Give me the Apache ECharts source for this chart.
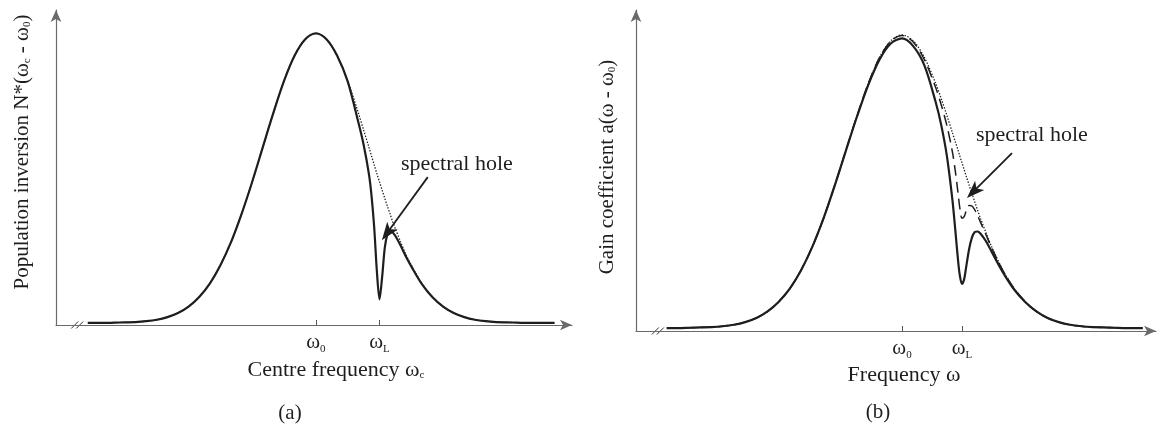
<!DOCTYPE html>
<html>
<head>
<meta charset="utf-8">
<script src="https://cdn.jsdelivr.net/npm/echarts@6/dist/echarts.min.js"></script>
<style>
  html, body { margin: 0; padding: 0; background: #fff; }
  #chart { width: 1164px; height: 430px; }
</style>
</head>
<body>
<div id="chart"></div>
<script>
// Frequencies are in units of the inhomogeneous width, with ω0 at 0.

// (a) population inversion versus centre frequency
const freqA = [-4.3, -4.0, -3.8, -3.6, -3.4, -3.2, -3.0, -2.8, -2.6, -2.4,
  -2.2, -2.0, -1.8, -1.6, -1.4, -1.2, -1.0, -0.8, -0.6, -0.4,
  -0.2, 0, 0.2, 0.4, 0.6, 0.8, 0.9, 1.0, 1.05, 1.1,
  1.15, 1.2, 1.25, 1.3, 1.35, 1.4, 1.45, 1.5, 1.6, 1.7,
  1.8, 2.0, 2.2, 2.4, 2.6, 2.8, 3.0, 3.2, 3.4, 3.6,
  3.8, 4.0, 4.2, 4.5];
// unsaturated inversion (dotted)
const inversionUnsat = [0.007, 0.007, 0.008, 0.009, 0.010, 0.013, 0.018, 0.027, 0.041, 0.063,
  0.096, 0.142, 0.205, 0.284, 0.381, 0.491, 0.610, 0.728, 0.837, 0.924,
  0.980, 1.000, 0.980, 0.924, 0.837, 0.728, 0.669, 0.610, 0.579, 0.549,
  0.519, 0.491, 0.462, 0.434, 0.406, 0.381, 0.353, 0.330, 0.284, 0.241,
  0.205, 0.142, 0.096, 0.063, 0.041, 0.027, 0.018, 0.013, 0.010, 0.009,
  0.008, 0.007, 0.007, 0.007];
// inversion with the hole burnt at ωL (solid)
const inversionHole = [0.007, 0.007, 0.008, 0.009, 0.010, 0.013, 0.018, 0.027, 0.041, 0.063,
  0.096, 0.142, 0.205, 0.284, 0.381, 0.491, 0.610, 0.728, 0.837, 0.924,
  0.980, 1.000, 0.980, 0.924, 0.835, 0.696, 0.619, 0.518, 0.443, 0.335,
  0.186, 0.088, 0.165, 0.265, 0.311, 0.323, 0.317, 0.305, 0.272, 0.234,
  0.201, 0.140, 0.095, 0.063, 0.041, 0.027, 0.018, 0.013, 0.010, 0.009,
  0.008, 0.007, 0.007, 0.007];
const ticksA = [0, 1.2];                       // ω0, ωL
const tickLabelsA = ['ω{s|0}', 'ω{s|L}'];

// (b) gain coefficient versus frequency
const freqB = [-4.2, -4.0, -3.8, -3.6, -3.4, -3.2, -3.0, -2.8, -2.6, -2.4,
  -2.2, -2.0, -1.8, -1.6, -1.4, -1.2, -1.0, -0.8, -0.6, -0.4,
  -0.2, 0, 0.2, 0.4, 0.6, 0.7, 0.8, 0.9, 0.95, 1.0,
  1.03, 1.07, 1.11, 1.15, 1.2, 1.25, 1.3, 1.35, 1.4, 1.5,
  1.6, 1.8, 2.0, 2.2, 2.4, 2.6, 2.8, 3.0, 3.2, 3.4,
  3.6, 3.8, 4.0, 4.3];
// small-signal gain (dotted)
const gainUnsat = [0.010, 0.010, 0.011, 0.012, 0.013, 0.016, 0.021, 0.030, 0.044, 0.066,
  0.099, 0.144, 0.206, 0.285, 0.381, 0.492, 0.611, 0.729, 0.837, 0.924,
  0.980, 1.000, 0.980, 0.924, 0.837, 0.785, 0.729, 0.670, 0.640, 0.611,
  0.592, 0.569, 0.545, 0.521, 0.492, 0.464, 0.436, 0.408, 0.381, 0.332,
  0.285, 0.206, 0.144, 0.099, 0.066, 0.044, 0.030, 0.021, 0.016, 0.013,
  0.012, 0.011, 0.010, 0.010];
// gain under a weak field at ωL (dashed)
const gainWeak = [0.010, 0.010, 0.011, 0.012, 0.013, 0.016, 0.021, 0.030, 0.044, 0.066,
  0.099, 0.144, 0.206, 0.285, 0.381, 0.492, 0.611, 0.729, 0.837, 0.924,
  0.979, 0.998, 0.976, 0.916, 0.823, 0.764, 0.695, 0.605, 0.543, 0.467,
  0.419, 0.381, 0.386, 0.408, 0.424, 0.422, 0.409, 0.390, 0.368, 0.325,
  0.281, 0.205, 0.144, 0.099, 0.066, 0.044, 0.030, 0.021, 0.016, 0.013,
  0.012, 0.011, 0.010, 0.010];
// gain under a strong field at ωL (solid)
const gainStrong = [0.010, 0.010, 0.011, 0.012, 0.013, 0.016, 0.021, 0.030, 0.044, 0.066,
  0.099, 0.144, 0.206, 0.285, 0.381, 0.492, 0.610, 0.726, 0.832, 0.917,
  0.971, 0.988, 0.962, 0.897, 0.774, 0.696, 0.593, 0.444, 0.345, 0.241,
  0.191, 0.159, 0.175, 0.221, 0.278, 0.316, 0.334, 0.336, 0.329, 0.303,
  0.268, 0.199, 0.141, 0.098, 0.066, 0.044, 0.030, 0.021, 0.016, 0.013,
  0.012, 0.011, 0.010, 0.010];
const ticksB = [0, 1.07];                      // ω0, ωL
const tickLabelsB = ['ω{s|0}', 'ω{s|L}'];

// annotation anchors (data coordinates): label arrow start -> tip
const holeArrowA = [[2.11, 0.507], [1.245, 0.291]];
const holeArrowB = [[1.964, 0.601], [1.16, 0.449]];

const SERIF = '"Liberation Serif", "DejaVu Serif", serif';
const INK = '#1e1e1e';
const AXIS = '#6a6a6a';

const zip = (xs, ys) => xs.map((x, i) => [x, ys[i]]);

const subRich = {
  s: { fontFamily: SERIF, fontSize: 11, lineHeight: 11, verticalAlign: 'bottom', color: INK }
};

function makeXAxis(gridIndex, min, max, ticks, labels) {
  return {
    type: 'value', gridIndex, min, max,
    splitLine: { show: false },
    axisLine: {
      onZero: false,
      symbol: ['none', 'arrow'], symbolSize: [8, 12],
      lineStyle: { color: AXIS, width: 1.2 }
    },
    axisTick: {
      customValues: ticks, inside: true, length: 5,
      lineStyle: { color: '#555', width: 1 }
    },
    axisLabel: {
      customValues: ticks, margin: 5,
      fontFamily: SERIF, fontSize: 21, lineHeight: 25, color: INK,
      formatter: v => labels[ticks.indexOf(v)] ?? '',
      rich: subRich
    }
  };
}
function makeYAxis(gridIndex, max) {
  return {
    type: 'value', gridIndex, min: 0, max,
    splitLine: { show: false },
    axisTick: { show: false },
    axisLabel: { show: false },
    axisLine: {
      onZero: false,
      symbol: ['none', 'arrow'], symbolSize: [8, 12],
      lineStyle: { color: AXIS, width: 1.2 }
    }
  };
}
function curve(name, xi, xs, ys, style, z) {
  return {
    name, type: 'line', xAxisIndex: xi, yAxisIndex: xi,
    data: zip(xs, ys), showSymbol: false, smooth: 0.3, z,
    lineStyle: Object.assign({ color: INK }, style),
    silent: true, animation: false
  };
}

const chart = echarts.init(document.getElementById('chart'), null, { renderer: 'canvas' });

chart.setOption({
  backgroundColor: '#fff',
  animation: false,
  grid: [
    { left: 56, top: 10, width: 516, height: 315 },
    { left: 636, top: 10, width: 520, height: 321 }
  ],
  xAxis: [
    makeXAxis(0, -4.9, 4.83, ticksA, tickLabelsA),
    makeXAxis(1, -4.75, 4.536, ticksB, tickLabelsB)
  ],
  yAxis: [makeYAxis(0, 1.08), makeYAxis(1, 1.084)],
  series: [
    curve('unsaturated inversion', 0, freqA, inversionUnsat, { width: 1.3, type: [1.4, 1.6] }, 2),
    curve('burnt inversion', 0, freqA, inversionHole, { width: 2.2 }, 3),
    curve('small-signal gain', 1, freqB, gainUnsat, { width: 1.3, type: [1.4, 1.6] }, 2),
    curve('weak-field gain', 1, freqB, gainWeak, { width: 1.5, type: [11, 6] }, 3),
    curve('strong-field gain', 1, freqB, gainStrong, { width: 2.2 }, 4)
  ]
});

// Overlay: titles, axis breaks and the "spectral hole" arrows
function arrowShapes(gridIndex, from, to) {
  const p0 = chart.convertToPixel({ gridIndex }, from);
  const p1 = chart.convertToPixel({ gridIndex }, to);
  const dx = p1[0] - p0[0], dy = p1[1] - p0[1];
  const len = Math.hypot(dx, dy), ux = dx / len, uy = dy / len;
  const nx = -uy, ny = ux, L = 18, W = 6.5;
  return [
    { type: 'line', shape: { x1: p0[0], y1: p0[1], x2: p1[0] - ux * L * 0.7, y2: p1[1] - uy * L * 0.7 },
      style: { stroke: INK, lineWidth: 1.8 } },
    { type: 'polygon', shape: { points: [
        [p1[0], p1[1]],
        [p1[0] - ux * L + nx * W, p1[1] - uy * L + ny * W],
        [p1[0] - ux * L * 0.75, p1[1] - uy * L * 0.75],
        [p1[0] - ux * L - nx * W, p1[1] - uy * L - ny * W]
      ] }, style: { fill: INK } }
  ];
}
function breakMarks(gridIndex, xVal) {
  const p = chart.convertToPixel({ gridIndex }, [xVal, 0]);
  return [-2.5, 2.5].map(off => ({
    type: 'line',
    shape: { x1: p[0] + off - 3.5, y1: p[1] + 3.5, x2: p[0] + off + 3.5, y2: p[1] - 3.5 },
    style: { stroke: '#333', lineWidth: 1 }
  }));
}
function label(text, x, y, opts) {
  return Object.assign({
    type: 'text', x, y, silent: true,
    style: Object.assign({
      text, fontFamily: SERIF, fontSize: 21, fill: INK,
      align: 'center', verticalAlign: 'middle', rich: subRich
    }, (opts && opts.style) || {})
  }, opts && opts.rotation !== undefined ? { rotation: opts.rotation } : {});
}

chart.setOption({
  graphic: [
    label('Population inversion N*(ω{s|c} - ω{s|0})', 22, 152, { rotation: Math.PI / 2 }),
    label('Gain coefficient a(ω - ω{s|0})', 607, 167, { rotation: Math.PI / 2 }),
    label('Centre frequency ω{s|c}', 336, 370, { style: { fontSize: 22 } }),
    label('Frequency ω', 904, 375, { style: { fontSize: 22 } }),
    label('(a)', 290, 413),
    label('(b)', 878, 412),
    label('spectral hole', 401, 164, { style: { align: 'left', fontSize: 22 } }),
    label('spectral hole', 976, 135, { style: { align: 'left', fontSize: 22 } }),
    ...breakMarks(0, -4.5),
    ...breakMarks(1, -4.36),
    ...arrowShapes(0, holeArrowA[0], holeArrowA[1]),
    ...arrowShapes(1, holeArrowB[0], holeArrowB[1])
  ]
});
</script>
</body>
</html>
